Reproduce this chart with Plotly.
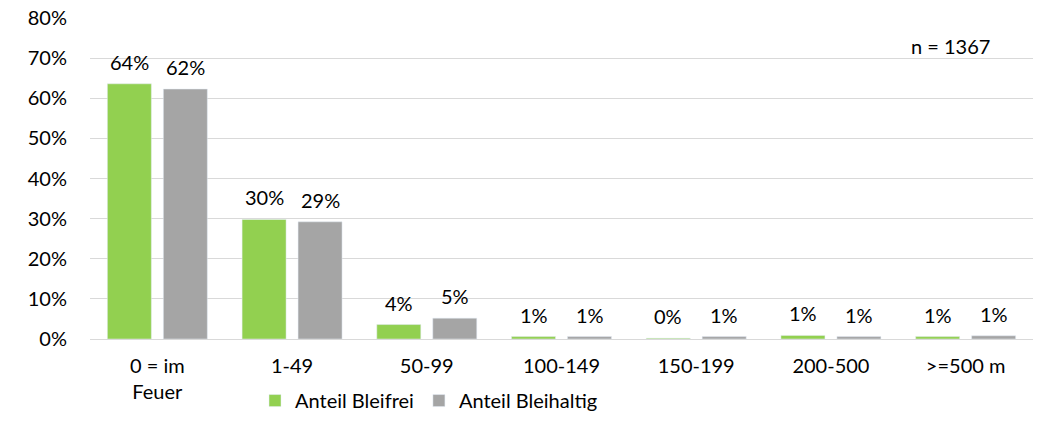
import plotly.graph_objects as go

categories = ["0 = im<br>Feuer", "1-49", "50-99", "100-149", "150-199", "200-500", ">=500 m"]
bleifrei = [63.6, 29.8, 3.6, 0.6, 0.2, 0.9, 0.6]
bleihaltig = [62.3, 29.2, 5.2, 0.6, 0.6, 0.6, 0.8]
sample_note = "n = 1367"

font_family = "Lato, 'Noto Sans', sans-serif"
fsize = 20

fig = go.Figure()
fig.add_trace(go.Bar(x=categories, y=[v / 100 for v in bleifrei], name="Anteil Bleifrei",
                     marker=dict(color="#92D050")))
fig.add_trace(go.Bar(x=categories, y=[v / 100 for v in bleihaltig], name="Anteil Bleihaltig",
                     marker=dict(color="#A5A5A5")))

# data labels, lifted a bit above the bars like in Excel
for vals, shift in [(bleifrei, -28), (bleihaltig, 28)]:
    for cat, v in zip(categories, vals):
        fig.add_annotation(x=cat, y=v / 100, text=f"{v:.0f}%", showarrow=False,
                           xshift=shift, yshift=22, font=dict(size=fsize, color="#000000"))

fig.add_annotation(x=0.913, y=0.913, xref="paper", yref="paper", text=sample_note,
                   xanchor="center", yanchor="middle",
                   showarrow=False, font=dict(size=fsize, color="#000000"))

fig.update_layout(
    width=1045, height=422,
    margin=dict(l=90, r=12, t=18, b=83, autoexpand=False),
    plot_bgcolor="white", paper_bgcolor="white",
    font=dict(family=font_family, size=fsize, color="#000000"),
    barmode="group", bargap=0.169, bargroupgap=0.214,
    showlegend=True,
    legend=dict(orientation="h", x=0.175, xanchor="left", y=-0.131, yanchor="top",
                bgcolor="rgba(0,0,0,0)",
                font=dict(size=fsize), itemwidth=30, tracegroupgap=0),
)
fig.update_yaxes(range=[0, 0.8], tickvals=[i / 10 for i in range(9)], tickformat=".0%",
                 gridcolor="#D9D9D9", zeroline=False, showline=False,
                 ticklabelstandoff=22, ticklabeloverflow="allow", automargin=False)
fig.update_xaxes(showline=True, linecolor="#D9D9D9", linewidth=1, ticklabelstandoff=9,
                 ticklabeloverflow="allow", automargin=False)

# drop the default 8px body margin so the figure fills the window
fig.write_html("out.html", config={"displayModeBar": False},
               post_script="document.body.style.margin='0';")
